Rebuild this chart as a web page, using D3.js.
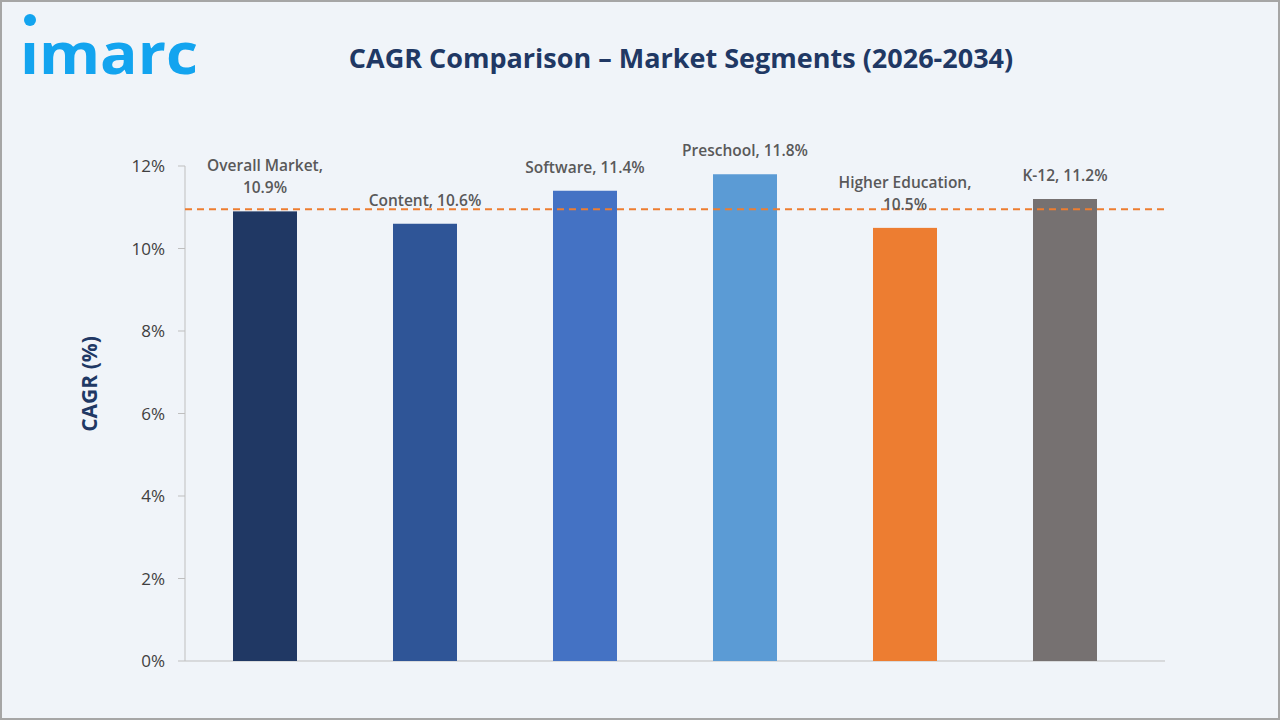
<!DOCTYPE html>
<html><head><meta charset="utf-8">
<script src="https://cdn.jsdelivr.net/npm/d3@7"></script>
<style>body{margin:0;background:#fff}svg{display:block}</style>
</head><body><svg id="c" width="1280" height="720"></svg>
<script>
const categories = ["Overall Market","Content","Software","Preschool","Higher Education","K-12"];
const values = [10.9,10.6,11.4,11.8,10.5,11.2];
const labelLines = [["Overall Market,","10.9%"],["Content, 10.6%"],["Software, 11.4%"],["Preschool, 11.8%"],["Higher Education,","10.5%"],["K-12, 11.2%"]];
const colors = ["#203864","#2f5597","#4472c4","#5b9bd5","#ed7d31","#767171"];
const yTicks = [0,2,4,6,8,10,12];
const referenceValue = 10.95;

const F = "'Open Sans', 'Liberation Sans', Arial, sans-serif";
const svg = d3.select("#c");
svg.append("rect").attr("x",1).attr("y",1).attr("width",1278).attr("height",718).attr("fill","#f0f4f9").attr("stroke","#a6a6a6").attr("stroke-width",2);
svg.append("text").attr("x",20).attr("y",74).attr("font-family","'Open Sans', sans-serif").attr("font-size",58).attr("font-weight","bold").attr("fill","#13a4ef").attr("textLength",178).attr("lengthAdjust","spacingAndGlyphs").text("ımarc");
svg.append("circle").attr("cx",30).attr("cy",20).attr("r",6).attr("fill","#13a4ef");
svg.append("text").attr("x",681).attr("y",68).attr("text-anchor","middle").attr("font-family",F).attr("font-size",27).attr("font-weight","bold").attr("fill","#203864").text("CAGR Comparison – Market Segments (2026-2034)");

const x = d3.scaleBand().domain(categories).range([185,1145]).paddingInner(0.6).paddingOuter(0.3);
const y = d3.scaleLinear().domain([0,12]).range([661,166]);

svg.append("line").attr("x1",185).attr("x2",1165).attr("y1",661).attr("y2",661).attr("stroke","#bfbfbf");
svg.append("line").attr("x1",185).attr("x2",185).attr("y1",166).attr("y2",661).attr("stroke","#bfbfbf");
yTicks.forEach(t=>{
  svg.append("line").attr("x1",178).attr("x2",185).attr("y1",y(t)).attr("y2",y(t)).attr("stroke","#bfbfbf");
  svg.append("text").attr("x",165).attr("y",y(t)+6).attr("text-anchor","end").attr("font-family",F).attr("font-size",17).attr("fill","#404040").text(t+"%");
});
svg.append("text").attr("transform","translate(97,384) rotate(-90)").attr("text-anchor","middle").attr("font-family",F).attr("font-size",21).attr("font-weight","bold").attr("fill","#203864").text("CAGR (%)");

svg.selectAll(".bar").data(categories).enter().append("rect")
  .attr("x",d=>x(d)).attr("width",x.bandwidth())
  .attr("y",(d,i)=>y(values[i])).attr("height",(d,i)=>661-y(values[i]))
  .attr("fill",(d,i)=>colors[i]);

svg.append("line").attr("x1",185).attr("x2",1165).attr("y1",y(referenceValue)).attr("y2",y(referenceValue)).attr("stroke","#ed7d31").attr("stroke-width",2).attr("stroke-dasharray","7,5");

categories.forEach((c,i)=>{
  const lines = labelLines[i];
  const base = y(values[i]) - 18;
  lines.forEach((l,j)=>{
    svg.append("text").attr("x",x(c)+x.bandwidth()/2).attr("y",base-(lines.length-1-j)*22)
      .attr("text-anchor","middle").attr("font-family",F).attr("font-size",15.5).attr("font-weight",600).attr("fill","#595959").text(l);
  });
});
</script></body></html>
